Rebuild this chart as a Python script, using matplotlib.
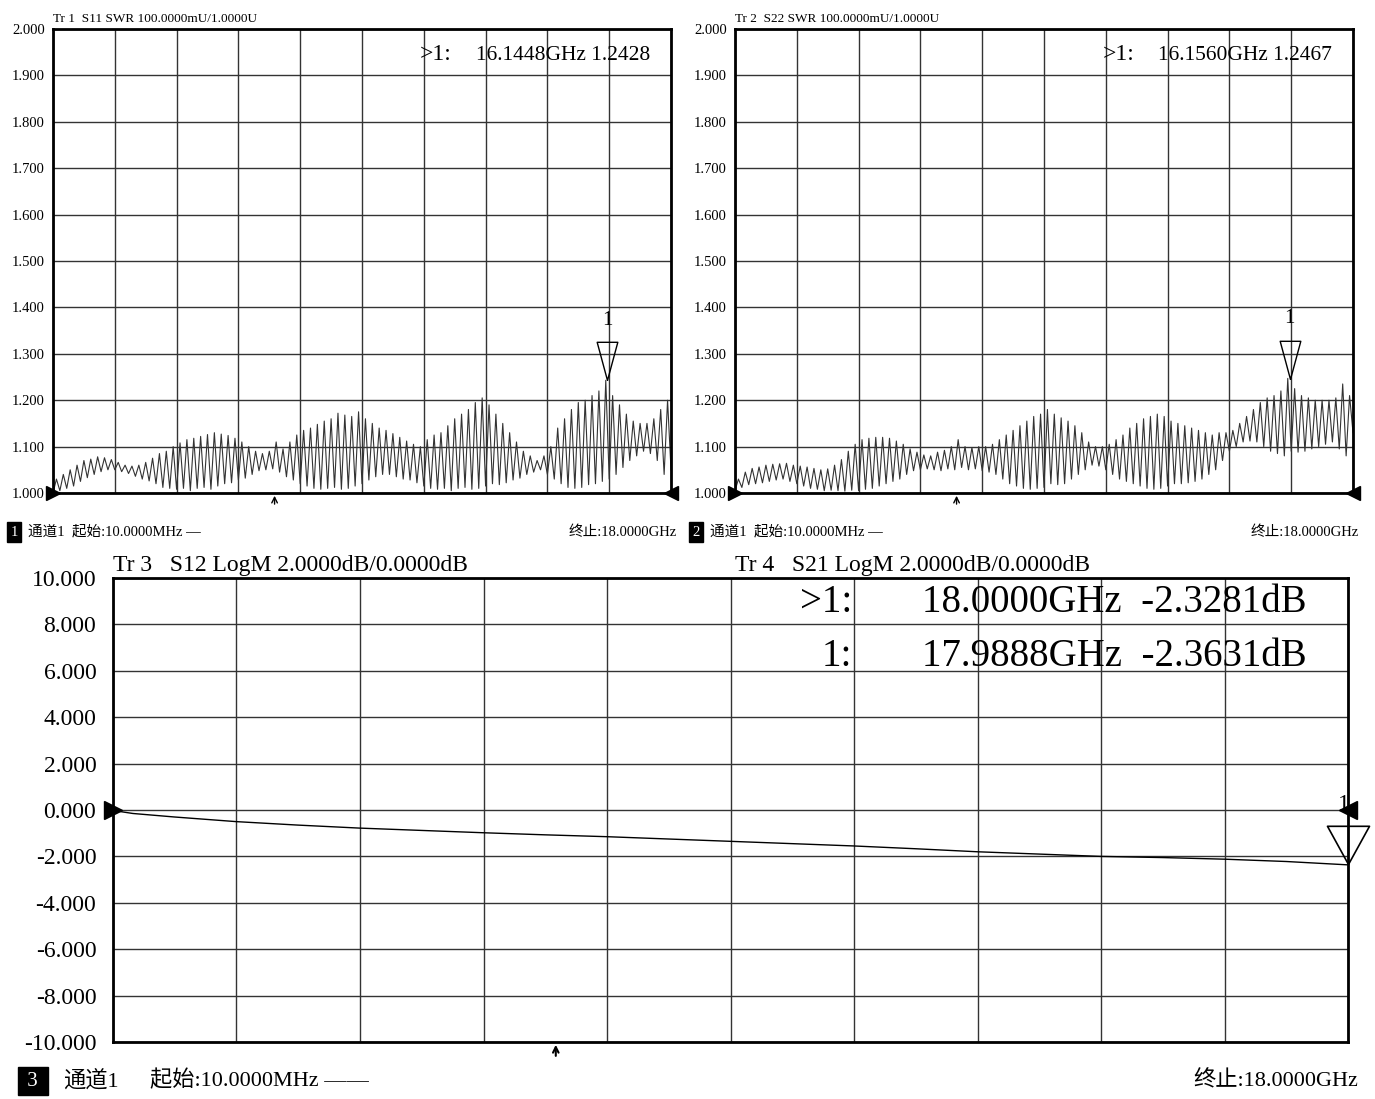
import numpy as np
import matplotlib
matplotlib.use("Agg")
import matplotlib.pyplot as plt

plt.rcParams['font.family'] = ['Liberation Serif', 'Noto Sans CJK SC']

# sweep 10 MHz .. 18 GHz, troughs on even points, peaks on odd points
freq = np.linspace(0.01, 18.0, 181)

s11_peaks = [1.030, 1.040, 1.050, 1.060, 1.070, 1.073, 1.078, 1.076, 1.072, 1.066,
             1.060, 1.058, 1.060, 1.066, 1.075, 1.085, 1.090, 1.100, 1.108, 1.115,
             1.118, 1.122, 1.126, 1.130, 1.127, 1.124, 1.118, 1.110, 1.100, 1.090,
             1.085, 1.090, 1.110, 1.095, 1.110, 1.125, 1.135, 1.140, 1.148, 1.155,
             1.160, 1.172, 1.168, 1.165, 1.175, 1.160, 1.150, 1.140, 1.135, 1.128,
             1.120, 1.112, 1.105, 1.100, 1.115, 1.125, 1.130, 1.145, 1.160, 1.170,
             1.180, 1.195, 1.205, 1.190, 1.170, 1.150, 1.130, 1.110, 1.090, 1.080,
             1.070, 1.080, 1.100, 1.140, 1.160, 1.180, 1.195, 1.200, 1.210, 1.220,
             1.243, 1.210, 1.190, 1.170, 1.155, 1.150, 1.150, 1.160, 1.180, 1.200]
s11_troughs = [1.000, 1.005, 1.010, 1.015, 1.025, 1.033, 1.040, 1.046, 1.050, 1.050,
               1.046, 1.042, 1.036, 1.030, 1.026, 1.020, 1.012, 1.010, 1.008, 1.010,
               1.005, 1.010, 1.012, 1.008, 1.015, 1.020, 1.022, 1.028, 1.032, 1.040,
               1.048, 1.050, 1.052, 1.045, 1.035, 1.028, 1.020, 1.015, 1.010, 1.008,
               1.010, 1.012, 1.008, 1.010, 1.015, 1.020, 1.028, 1.035, 1.040, 1.040,
               1.035, 1.030, 1.028, 1.022, 1.015, 1.010, 1.008, 1.010, 1.005, 1.010,
               1.012, 1.008, 1.010, 1.015, 1.020, 1.018, 1.022, 1.028, 1.032, 1.040,
               1.045, 1.050, 1.040, 1.030, 1.020, 1.012, 1.010, 1.012, 1.018, 1.020,
               1.025, 1.030, 1.040, 1.055, 1.070, 1.080, 1.090, 1.085, 1.070, 1.040,
               1.050]

s22_peaks = [1.030, 1.045, 1.053, 1.056, 1.060, 1.062, 1.063, 1.064, 1.060, 1.058,
             1.056, 1.053, 1.050, 1.052, 1.060, 1.072, 1.090, 1.105, 1.115, 1.118,
             1.120, 1.120, 1.118, 1.112, 1.105, 1.095, 1.088, 1.082, 1.080, 1.088,
             1.092, 1.100, 1.115, 1.100, 1.098, 1.100, 1.100, 1.105, 1.115, 1.125,
             1.135, 1.145, 1.155, 1.165, 1.170, 1.180, 1.170, 1.162, 1.155, 1.145,
             1.130, 1.110, 1.100, 1.100, 1.105, 1.115, 1.125, 1.140, 1.150, 1.160,
             1.165, 1.170, 1.165, 1.155, 1.150, 1.145, 1.140, 1.135, 1.130, 1.125,
             1.130, 1.130, 1.135, 1.150, 1.165, 1.180, 1.195, 1.205, 1.210, 1.220,
             1.247, 1.225, 1.210, 1.205, 1.200, 1.200, 1.200, 1.205, 1.235, 1.210]
s22_troughs = [1.005, 1.012, 1.018, 1.020, 1.022, 1.025, 1.028, 1.030, 1.025, 1.020,
               1.015, 1.010, 1.008, 1.005, 1.006, 1.005, 1.004, 1.006, 1.005, 1.008,
               1.010, 1.015, 1.020, 1.025, 1.030, 1.040, 1.048, 1.050, 1.052, 1.050,
               1.048, 1.052, 1.050, 1.055, 1.050, 1.052, 1.048, 1.045, 1.040, 1.030,
               1.020, 1.015, 1.010, 1.008, 1.010, 1.012, 1.020, 1.018, 1.020, 1.030,
               1.040, 1.050, 1.060, 1.058, 1.050, 1.040, 1.030, 1.025, 1.020, 1.015,
               1.010, 1.008, 1.010, 1.015, 1.020, 1.020, 1.022, 1.025, 1.030, 1.040,
               1.050, 1.070, 1.090, 1.100, 1.110, 1.112, 1.110, 1.100, 1.090, 1.085,
               1.080, 1.090, 1.088, 1.090, 1.095, 1.100, 1.105, 1.110, 1.095, 1.080,
               1.130]

s12_freq = [0.01, 0.3, 0.9, 1.8, 2.7, 3.6, 4.5, 5.4, 6.3, 7.2, 8.1, 9.0, 9.9,
            10.8, 11.7, 12.6, 13.5, 14.4, 15.3, 16.2, 17.1, 17.99, 18.0]
s12_db = [-0.02, -0.15, -0.30, -0.50, -0.65, -0.78, -0.88, -0.98, -1.07, -1.15,
          -1.25, -1.35, -1.45, -1.55, -1.67, -1.80, -1.90, -2.00, -2.05, -2.12,
          -2.22, -2.3631, -2.3281]

swr_ticks = np.round(np.arange(1.0, 2.001, 0.1), 3)
db_ticks = np.arange(-10, 11, 2)
mk_top = [(16.1448, 1.2428), (16.1560, 1.2467)]
mk_bot = (18.0, -2.3281)
stim = 6.46

W, H = 1375, 1099
fig = plt.figure(figsize=(W / 100, H / 100), dpi=100)


def box(x0, y0, x1, y1):
    """pixel box -> figure fraction rect"""
    return [x0 / W, 1 - y1 / H, (x1 - x0) / W, (y1 - y0) / H]


def ftext(x, y, s, **kw):
    fig.text(x / W, 1 - y / H, s, va='center', **kw)


def frame(ax, ticks, fmt, fs, pad):
    ax.set_xlim(0.01, 18.0)
    ax.set_ylim(ticks[0], ticks[-1])
    ax.set_xticks(np.linspace(0.01, 18.0, 11))
    ax.set_xticklabels([])
    ax.set_yticks(ticks)
    ax.set_yticklabels([fmt % t for t in ticks], fontsize=fs)
    ax.tick_params(length=0, pad=pad)
    ax.grid(True, color='#333333', lw=1.0)
    for sp in ax.spines.values():
        sp.set_linewidth(2.0)
        sp.set_color('black')


tri = [(0, 0), (-0.27, 1), (0.27, 1), (0, 0)]
tri_wide = [(0, 0), (-0.55, 1), (0.55, 1), (0, 0)]

# top two SWR panels
panels = [(53, 671, 'Tr 1  S11 SWR 100.0000mU/1.0000U', s11_peaks, s11_troughs,
           '16.1448GHz 1.2428', '1'),
          (735, 1353, 'Tr 2  S22 SWR 100.0000mU/1.0000U', s22_peaks, s22_troughs,
           '16.1560GHz 1.2467', '2')]
for i, (x0, x1, title, pk, tr, readout, num) in enumerate(panels):
    ax = fig.add_axes(box(x0, 29, x1, 493))
    frame(ax, swr_ticks, '%.3f', 10.5, 6)
    y = np.empty(len(freq))
    y[0::2] = tr
    y[1::2] = pk
    ax.plot(freq, y, color='#333333', lw=0.8)
    mx, my = mk_top[i]
    ax.plot([mx], [my], marker=tri, ms=55, mfc='none', mec='black', mew=1.0,
            clip_on=False)
    ax.annotate('1', (mx, my), xytext=(0, 43), textcoords='offset points',
                ha='center', va='center', fontsize=15, annotation_clip=False)
    ax.plot([0.01], [1.0], marker='>', ms=10, color='black', clip_on=False)
    ax.plot([18.0], [1.0], marker='<', ms=10, color='black', clip_on=False)
    ax.annotate('', xy=(stim, 0), xycoords=('data', 'axes fraction'),
                xytext=(0, -10), textcoords='offset points',
                arrowprops=dict(arrowstyle='->', lw=1.0, color='black'),
                annotation_clip=False)
    ax.text(0, 1.008, title, transform=ax.transAxes, ha='left', va='bottom',
            fontsize=9.5)
    ftext(x0 + 399, 55, '>1:', fontsize=17, ha='right')
    ftext(x0 + 597, 55, readout, fontsize=15.5, ha='right')
    # footer
    ftext(x0 - 39, 532, num, fontsize=10.5, color='white', ha='center',
          bbox=dict(boxstyle='square,pad=0.25', fc='black', ec='black'))
    ftext(x0 - 25, 532, '通道1  起始:10.0000MHz —', fontsize=10.5, ha='left')
    ftext(x1 + 6, 532, '终止:18.0000GHz', fontsize=10.5, ha='right')

# bottom LogM panel
ax = fig.add_axes(box(113, 578, 1348, 1042))
frame(ax, db_ticks, '%.3f', 17, 12)
ax.plot(s12_freq, s12_db, color='black', lw=1.0)
ax.plot([mk_bot[0]], [mk_bot[1]], marker=tri_wide, ms=55, mfc='none',
        mec='black', mew=1.2, clip_on=False)
ax.annotate('1', (18.0, 0), xytext=(-3, 4), textcoords='offset points',
            ha='center', va='center', fontsize=17, annotation_clip=False)
ax.plot([0.01], [0], marker='>', ms=13, color='black', clip_on=False)
ax.plot([18.0], [0], marker='<', ms=13, color='black', clip_on=False)
ax.annotate('', xy=(stim, 0), xycoords=('data', 'axes fraction'),
            xytext=(0, -12), textcoords='offset points',
            arrowprops=dict(arrowstyle='->', lw=1.5, color='black'),
            annotation_clip=False)
ax.text(0, 1.005, 'Tr 3   S12 LogM 2.0000dB/0.0000dB', transform=ax.transAxes,
        ha='left', va='bottom', fontsize=17)
ax.text(0.5036, 1.005, 'Tr 4   S21 LogM 2.0000dB/0.0000dB', transform=ax.transAxes,
        ha='left', va='bottom', fontsize=17)
ftext(852, 603, '>1:', fontsize=28, ha='right')
ftext(1307, 603, '18.0000GHz  -2.3281dB', fontsize=28, ha='right')
ftext(852, 657, '1:', fontsize=28, ha='right')
ftext(1307, 657, '17.9888GHz  -2.3631dB', fontsize=28, ha='right')

ftext(33, 1081, ' 3 ', fontsize=15, color='white', ha='center',
      bbox=dict(boxstyle='square,pad=0.2', fc='black', ec='black'))
ftext(63, 1081, '通道1', fontsize=16, ha='left')
ftext(150, 1081, '起始:10.0000MHz ——', fontsize=16, ha='left')
ftext(1358, 1081, '终止:18.0000GHz', fontsize=16, ha='right')

fig.savefig('out.png', dpi=100, facecolor='white')
